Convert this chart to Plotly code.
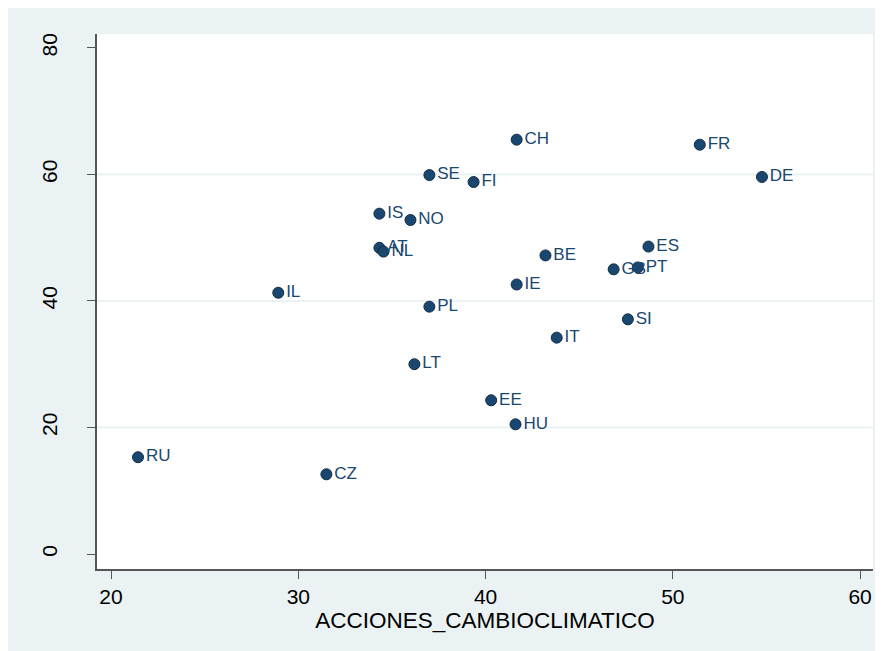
import plotly.graph_objects as go

countries = ["CH", "FR", "DE", "SE", "FI", "IS", "NO", "AT", "NL", "BE", "ES", "GB",
             "PT", "IL", "IE", "PL", "SI", "IT", "LT", "EE", "HU", "RU", "CZ"]
acciones = [41.66, 51.44, 54.76, 37.0, 39.36, 34.33, 35.99, 34.33, 34.55, 43.2, 48.7, 46.84,
            48.13, 28.93, 41.66, 37.0, 47.6, 43.8, 36.2, 40.3, 41.6, 21.44, 31.5]
yvals = [65.5, 64.7, 59.6, 59.9, 58.8, 53.8, 52.8, 48.4, 47.8, 47.2, 48.6, 45.0,
         45.3, 41.3, 42.6, 39.1, 37.1, 34.2, 30.0, 24.3, 20.5, 15.3, 12.6]

xticks = [20, 30, 40, 50, 60]
yticks = [0, 20, 40, 60, 80]

navy = "#1a476f"
bg = "#eaf2f3"
font = "Liberation Sans, Arial, sans-serif"

fig = go.Figure()
fig.add_trace(go.Scatter(
    x=acciones, y=yvals, mode="markers+text", text=countries,
    textposition="middle right",
    textfont=dict(family=font, size=17, color=navy),
    marker=dict(size=11, color=navy, line=dict(color="#0f2c45", width=1)),
    cliponaxis=False, showlegend=False,
))

fig.update_layout(
    width=875, height=643,
    margin=dict(l=89, r=10, t=26, b=82),
    paper_bgcolor=bg, plot_bgcolor="white",
    font=dict(family=font, color="black"),
    xaxis=dict(range=[19.25, 60.69], tickvals=xticks, ticks="outside", ticklen=8,
               tickcolor="#555", showline=True, linecolor="#555", linewidth=2,
               showgrid=False, zeroline=False, tickfont=dict(size=21),
               title=dict(text="ACCIONES_CAMBIOCLIMATICO", font=dict(size=22.5), standoff=0)),
    yaxis=dict(range=[-2.37, 82.2], tickvals=yticks, ticks="outside", ticklen=8,
               tickcolor="#555", showline=True, linecolor="#555", linewidth=2,
               showgrid=False, zeroline=False, tickangle=-90, tickfont=dict(size=21),
               ticklabelstandoff=22),
)

for g in [20, 40, 60]:
    fig.add_shape(type="line", xref="paper", x0=0, x1=1, yref="y", y0=g, y1=g,
                  line=dict(color=bg, width=2), layer="below")

fig.write_html("out.html")
